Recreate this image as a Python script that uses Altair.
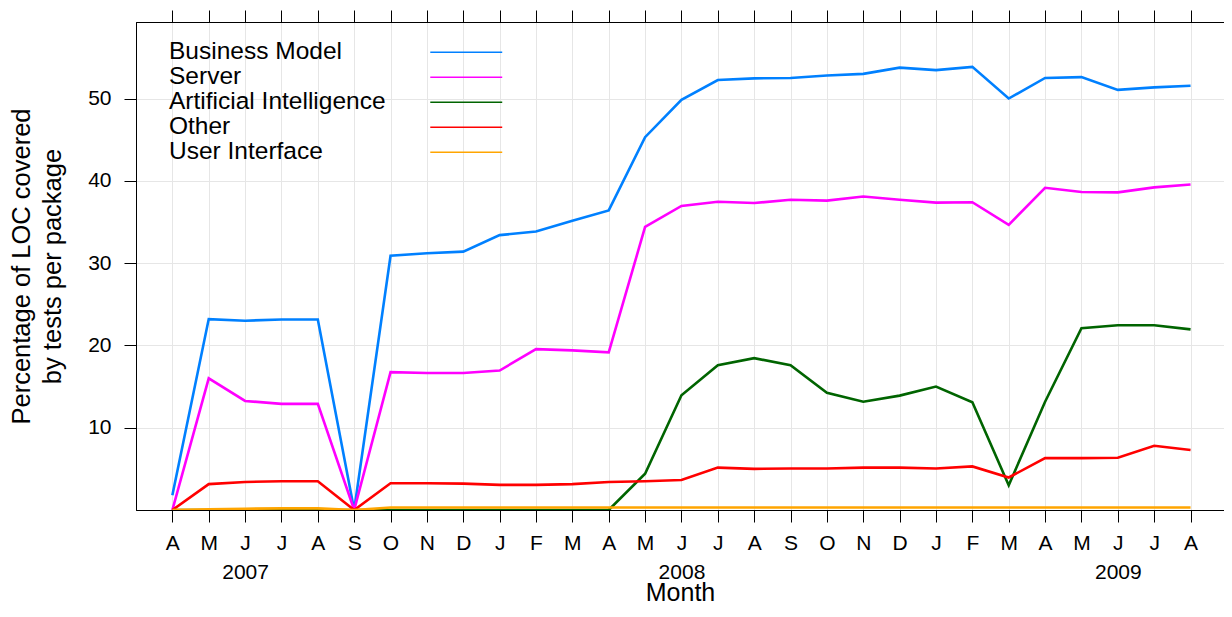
import json
import altair as alt
import pandas as pd

# ---- data ----
month_letters = ["A", "M", "J", "J", "A", "S", "O", "N", "D",
                 "J", "F", "M", "A", "M", "J", "J", "A", "S", "O", "N", "D",
                 "J", "F", "M", "A", "M", "J", "J", "A"]
year_labels = {2: "2007", 14: "2008", 26: "2009"}

series_names = ["Business Model", "Server", "Artificial Intelligence", "Other", "User Interface"]
series_colors = ["#0080FF", "#FF00FF", "#006400", "#FF0000", "#FFA500"]

business_model = [1.8, 23.2, 23.0, 23.15, 23.15, 0.0, 30.9, 31.2, 31.4, 33.4, 33.85, 35.15,
                  36.4, 45.3, 49.85, 52.25, 52.45, 52.5, 52.8, 53.0, 53.75, 53.45, 53.85,
                  50.0, 52.5, 52.6, 51.05, 51.35, 51.55]
server = [0.0, 16.0, 13.25, 12.9, 12.9, 0.0, 16.75, 16.65, 16.65, 16.95, 19.55, 19.4,
          19.15, 34.4, 36.95, 37.45, 37.3, 37.7, 37.6, 38.1, 37.7, 37.35, 37.4,
          34.65, 39.15, 38.65, 38.6, 39.2, 39.55]
artificial_intelligence = [0.0, 0.0, 0.0, 0.0, 0.0, 0.0, 0.0, 0.0, 0.0, 0.0, 0.0, 0.0,
                           0.0, 4.4, 13.95, 17.6, 18.45, 17.6, 14.25, 13.15, 13.9, 15.0, 13.1,
                           3.0, 13.15, 22.1, 22.45, 22.45, 21.95]
other = [0.0, 3.15, 3.4, 3.5, 3.5, 0.0, 3.25, 3.25, 3.2, 3.05, 3.05, 3.15,
         3.4, 3.5, 3.65, 5.15, 5.0, 5.05, 5.05, 5.15, 5.15, 5.05, 5.3,
         3.95, 6.3, 6.3, 6.35, 7.8, 7.3]
user_interface = [0.0, 0.1, 0.15, 0.2, 0.2, 0.0, 0.3, 0.3, 0.3, 0.3, 0.3, 0.3,
                  0.3, 0.3, 0.3, 0.3, 0.3, 0.3, 0.3, 0.3, 0.3, 0.3, 0.3,
                  0.3, 0.3, 0.3, 0.3, 0.3, 0.3]
y_ticks = [10, 20, 30, 40, 50]

all_series = [business_model, server, artificial_intelligence, other, user_interface]
rows = []
for k, (name, vals) in enumerate(zip(series_names, all_series)):
    for i, v in enumerate(vals):
        rows.append({"month": i, "series": name, "value": v, "k": k})
df = pd.DataFrame(rows)

tick_labels = [[m, year_labels[i]] if i in year_labels else m for i, m in enumerate(month_letters)]
label_expr = json.dumps(tick_labels) + "[datum.value]"
month_idx = list(range(len(month_letters)))

FONT = "Liberation Sans"
x_scale = alt.Scale(domain=[-1, 28.92], nice=False, zero=False)
y_scale = alt.Scale(domain=[0, 59.3], nice=False, zero=False)

lines = alt.Chart(df).mark_line(strokeWidth=2.6, clip=True).encode(
    x=alt.X("month:Q", scale=x_scale,
            axis=alt.Axis(values=month_idx, labelExpr=label_expr, title="Month",
                          tickSize=12, labelPadding=10, labelFontSize=21,
                          labelLineHeight=29, titleFontSize=25, titleFontWeight="normal",
                          titlePadding=alt.ExprRef("-2"), grid=True, gridColor="#E6E6E6",
                          domainColor="black", tickColor="black", labelColor="black",
                          titleColor="black", labelFlush=False, labelOverlap=False)),
    y=alt.Y("value:Q", scale=y_scale,
            axis=alt.Axis(values=y_ticks, title=["Percentage of LOC covered", "by tests per package"],
                          tickSize=12, labelPadding=13, labelFontSize=21,
                          titleFontSize=25.5, titleFontWeight="normal", titleLineHeight=31,
                          titlePadding=22, grid=True, gridColor="#E6E6E6",
                          domainColor="black", tickColor="black", labelColor="black",
                          titleColor="black", labelFlush=False)),
    color=alt.Color("series:N", scale=alt.Scale(domain=series_names, range=series_colors),
                    legend=alt.Legend(title=None, orient="none", legendX=34, legendY=18,
                                      direction="vertical", symbolType="M-3.27,0H3.27",
                                      symbolSize=484, symbolStrokeWidth=1.5,
                                      labelFontSize=24.5, labelLimit=500,
                                      labelOffset=alt.ExprRef("-309.5"), symbolOffset=284,
                                      rowPadding=0, padding=0,
                                      labelColor="black")),
    order=alt.Order("k:Q"),
)

mirror = alt.Chart(df).mark_point(opacity=0).encode(
    x=alt.X("month:Q", scale=x_scale,
            axis=alt.Axis(orient="top", values=month_idx, labels=False, title=None,
                          tickSize=12, grid=False, domainColor="black", tickColor="black")),
    y=alt.Y("value:Q", scale=y_scale,
            axis=alt.Axis(orient="right", values=y_ticks, labels=False, title=None,
                          tickSize=12, grid=False, domainColor="black", tickColor="black")),
)

chart = alt.layer(lines, mirror).resolve_scale(x="independent", y="independent").properties(
    width=1088, height=488,
    autosize=alt.AutoSizeParams(type="none"),
    padding={"left": 128, "top": 14, "right": 0, "bottom": 95},
).configure(font=FONT).configure_view(stroke="black", strokeWidth=1)

chart.save("out.html", embed_options={"renderer": "svg", "actions": False})
